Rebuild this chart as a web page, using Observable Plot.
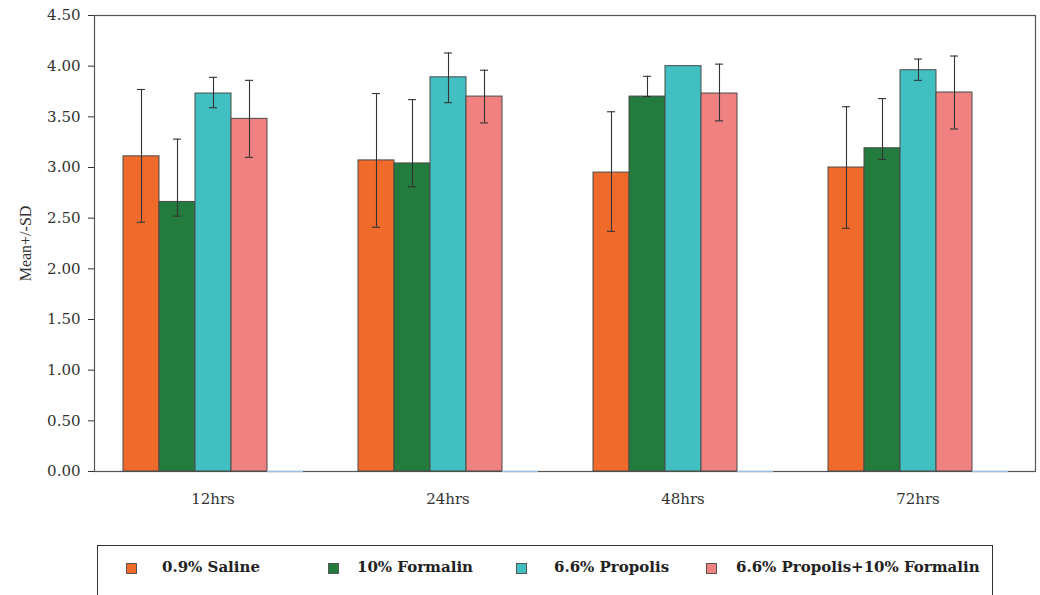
<!DOCTYPE html>
<html>
<head>
<meta charset="utf-8">
<script src="https://cdn.jsdelivr.net/npm/d3@7"></script>
<script src="https://cdn.jsdelivr.net/npm/@observablehq/plot@0.6"></script>
<style>
  html, body { margin: 0; padding: 0; background: #fff; }
  #wrap { position: relative; width: 1040px; height: 595px; overflow: hidden; }
  #legend { position: absolute; left: 97px; top: 545px; width: 896px; height: 80px;
            border: 1.5px solid #333; box-sizing: border-box; }
  .sw { position: absolute; top: 17px; width: 11px; height: 11px; border: 1px solid #555; box-sizing: border-box; }
  .tx { position: absolute; top: 12px; font-family: "DejaVu Serif", serif; font-weight: bold; font-size: 15px; color: #222; white-space: nowrap; }
</style>
</head>
<body>
<div id="wrap"><div id="chart"></div><div id="legend"></div></div>
<script>
// Categories and series
const groups = ["12hrs", "24hrs", "48hrs", "72hrs"];
const seriesNames = ["0.9% Saline", "10% Formalin", "6.6% Propolis", "6.6% Propolis+10% Formalin", "(empty)"];
const seriesColors = ["#ef6a2b", "#237b3d", "#41bfc1", "#f08181", "#9cc3e5"];

// Means per series (order of groups)
const salineMean   = [3.11, 3.07, 2.95, 3.00];
const formalinMean = [2.66, 3.04, 3.70, 3.19];
const propolisMean = [3.73, 3.89, 4.00, 3.96];
const comboMean    = [3.48, 3.70, 3.73, 3.74];
const emptyMean    = [0, 0, 0, 0];

// Error bar ends (upper / lower) as drawn
const salineHi   = [3.77, 3.73, 3.55, 3.60];
const salineLo   = [2.46, 2.41, 2.37, 2.40];
const formalinHi = [3.28, 3.67, 3.90, 3.68];
const formalinLo = [2.52, 2.81, 3.70, 3.08];
const propolisHi = [3.89, 4.13, 4.00, 4.07];
const propolisLo = [3.59, 3.64, 4.00, 3.86];
const comboHi    = [3.86, 3.96, 4.02, 4.10];
const comboLo    = [3.10, 3.44, 3.46, 3.38];

const yTicks = [0, 0.5, 1, 1.5, 2, 2.5, 3, 3.5, 4, 4.5];

const means = [salineMean, formalinMean, propolisMean, comboMean, emptyMean];
const his = [salineHi, formalinHi, propolisHi, comboHi, emptyMean];
const los = [salineLo, formalinLo, propolisLo, comboLo, emptyMean];

const data = [];
groups.forEach((g, i) => seriesNames.forEach((s, j) => {
  data.push({group: g, series: s, mean: means[j][i], hi: his[j][i], lo: los[j][i]});
}));
const barData = data.filter(d => d.mean > 0);
const zeroData = data.filter(d => d.mean === 0);
const errData = data.filter(d => d.hi > d.lo);

const plot = Plot.plot({
  width: 1040,
  height: 540,
  marginLeft: 122,
  marginRight: 32,
  marginTop: 15,
  marginBottom: 69,
  style: {fontFamily: "'DejaVu Serif', serif", fontSize: "15px", color: "#333", background: "#fff"},
  fx: {domain: groups, paddingInner: 0.23, paddingOuter: 0, label: null, tickSize: 0, tickPadding: 22},
  x: {domain: seriesNames, padding: 0, axis: null},
  y: {domain: [0, 4.5], axis: null},
  color: {domain: seriesNames, range: seriesColors},
  marks: [
    Plot.frame({stroke: "#555", strokeWidth: 1.2, facet: "super", insetLeft: -28, insetRight: -27}),
    Plot.axisY({ticks: yTicks, tickFormat: d3.format(".2f"), tickSize: 6, tickPadding: 8, dx: -28,
                label: "Mean+/-SD", labelAnchor: "center", labelOffset: 103}),
    Plot.barY(barData, {fx: "group", x: "series", y: "mean", fill: "series", stroke: "#4a4a4a", strokeWidth: 1}),
    Plot.tickY(zeroData, {fx: "group", x: "series", y: "mean", stroke: "#9cc3e5", strokeWidth: 1.5}),
    Plot.ruleX(errData, {fx: "group", x: "series", y1: "lo", y2: "hi", stroke: "#333", strokeWidth: 1.1}),
    Plot.tickY(errData, {fx: "group", x: "series", y: "hi", stroke: "#333", strokeWidth: 1.1, insetLeft: 14, insetRight: 14}),
    Plot.tickY(errData, {fx: "group", x: "series", y: "lo", stroke: "#333", strokeWidth: 1.1, insetLeft: 14, insetRight: 14})
  ]
});
// y label: plain text, serif
plot.querySelectorAll("text").forEach(t => {
  if (t.textContent.indexOf("Mean+/-SD") >= 0) {
    t.textContent = "Mean+/-SD";
    t.style.fontFamily = "'Liberation Serif', serif";
    t.style.fontSize = "16px";
  }
});
document.getElementById("chart").appendChild(plot);

// Legend (HTML, built from the series arrays)
const swLeft = [28, 230, 418, 608];
const txLeft = [64, 259, 456, 638];
const legend = document.getElementById("legend");
seriesNames.slice(0, 4).forEach((s, j) => {
  const sw = document.createElement("div");
  sw.className = "sw";
  sw.style.left = swLeft[j] + "px";
  sw.style.background = seriesColors[j];
  const tx = document.createElement("div");
  tx.className = "tx";
  tx.style.left = txLeft[j] + "px";
  tx.textContent = s;
  legend.appendChild(sw); legend.appendChild(tx);
});
</script>
</body>
</html>
